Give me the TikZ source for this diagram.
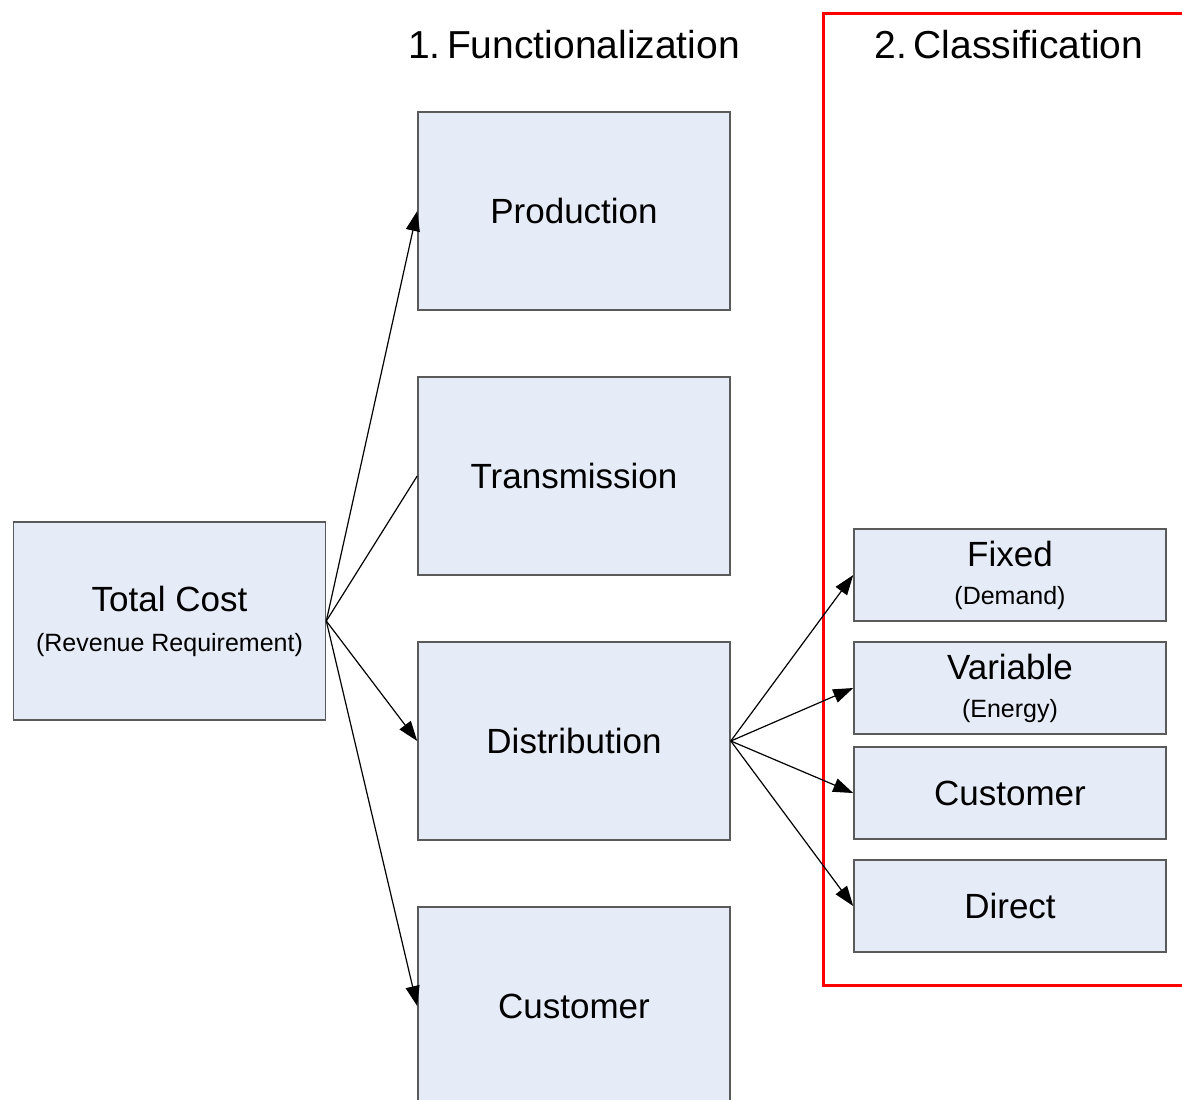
\documentclass[tikz,border=0pt]{standalone}
\usepackage{fontspec}
\setmainfont{Liberation Sans}
\usetikzlibrary{arrows.meta}
\definecolor{boxfill}{HTML}{E6ECF7}
\definecolor{boxline}{HTML}{5A5A5A}
\definecolor{frame}{HTML}{FF0000}
\tikzset{
  costbox/.style={draw=boxline, fill=boxfill, line width=0.8pt, inner sep=0pt,
    align=center, font=\fontsize{17.5}{20}\selectfont},
  bigbox/.style={costbox, minimum width=156pt, minimum height=99pt},
  smallbox/.style={costbox, minimum width=156pt, minimum height=46pt},
  heading/.style={font=\fontsize{19.5}{22}\selectfont, inner sep=0pt},
  link/.style={line width=0.6pt, -{Triangle[length=10pt, width=7pt]}},
  plainlink/.style={line width=0.6pt}
}
\newcommand{\subline}[1]{{\fontsize{12.5}{15}\selectfont #1}}
\begin{document}
\begin{tikzpicture}[x=0.5pt, y=-0.5pt]
  \useasboundingbox (0,0) rectangle (1182,1099);
  \clip (0,0) rectangle (1182,1099);
  \fill[white] (0,0) rectangle (1182,1099);

  % classification frame
  \draw[frame, line width=1.5pt] (823,13) rectangle (1210,985);

  % headings
  \node[heading] (h1) at (574,45) {1.\,Functionalization};
  \node[heading] (h2) at (1009,45) {2.\,Classification};

  % total cost
  \node[bigbox] (total) at (169.5,621)
    {Total Cost\\[0pt]\subline{(Revenue Requirement)}};

  % functions
  \node[bigbox] (prod)  at (574,211) {Production};
  \node[bigbox] (trans) at (574,476) {Transmission};
  \node[bigbox] (dist)  at (574,741) {Distribution};
  \node[bigbox] (cust)  at (574,1006) {Customer};

  % classes
  \node[smallbox] (fixed) at (1010,575)
    {Fixed\\[-1pt]\subline{(Demand)}};
  \node[smallbox] (var)   at (1010,688)
    {Variable\\[-1pt]\subline{(Energy)}};
  \node[smallbox] (ccust) at (1010,793) {Customer};
  \node[smallbox] (direct) at (1010,906) {Direct};

  % connectors
  \draw[link] (total.east) -- (prod.west);
  \draw[plainlink] (total.east) -- (trans.west);
  \draw[link] (total.east) -- (dist.west);
  \draw[link] (total.east) -- (cust.west);

  \draw[link] (dist.east) -- (fixed.west);
  \draw[link] (dist.east) -- (var.west);
  \draw[link] (dist.east) -- (ccust.west);
  \draw[link] (dist.east) -- (direct.west);
\end{tikzpicture}
\end{document}
